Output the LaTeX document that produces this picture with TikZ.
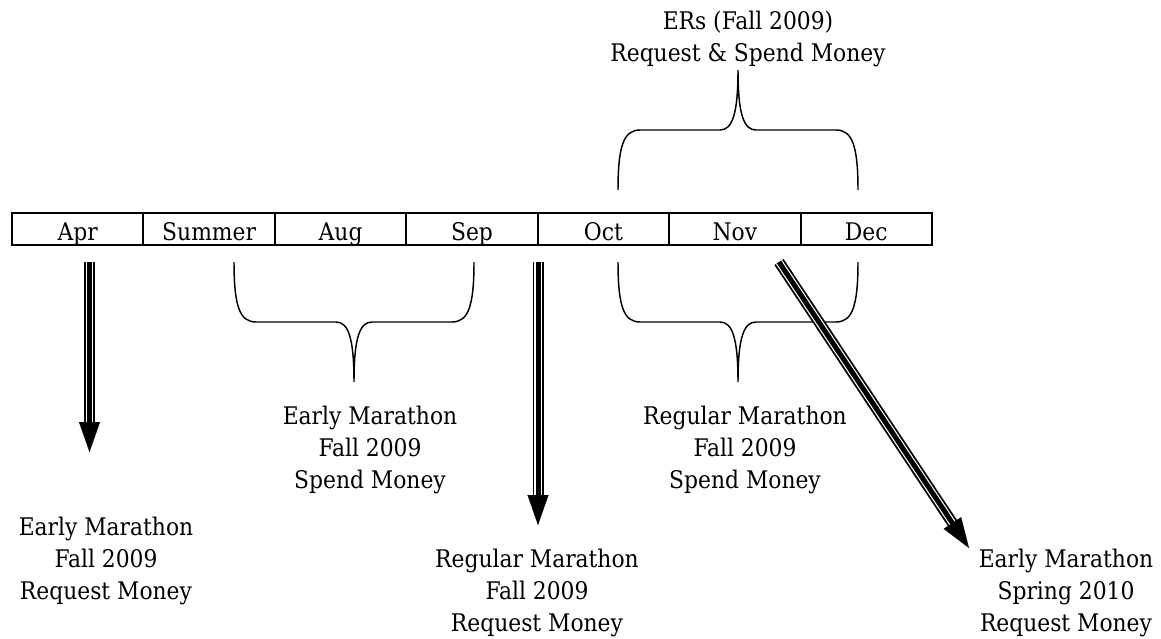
\documentclass[tikz,border=0pt]{standalone}
\usepackage{fontspec}
\setmainfont{DejaVu Serif Condensed}
\usetikzlibrary{arrows.meta}

\begin{document}
\begin{tikzpicture}[x=0.75pt, y=-0.75pt]
            \tikzstyle{cell}=[draw, line width=1.5pt, inner sep=0pt,
            minimum width=98.57pt, minimum height=24pt,
            text height=16.5pt, text depth=0pt, font=\fontsize{18.2}{24}\selectfont]
            \tikzstyle{txt}=[align=center, inner sep=0pt,
            font=\fontsize{18.2}{24}\selectfont]
            \tikzstyle{shaft}=[line width=8.25pt, shorten >=20pt,
            postaction={draw=white, line width=5.5pt, shorten >=20pt},
            postaction={draw, line width=3.75pt, shorten >=20pt}]
            \tikzstyle{tip}=[-{Triangle[length=22.5pt, width=15.75pt]}, line width=0.1pt]
            \tikzstyle{brace}=[line width=1.1pt]
            \useasboundingbox (0,0) rectangle (1161,639);

            % months
            \foreach \i/\n/\m in {0/apr/Apr, 1/sum/Summer, 2/aug/Aug, 3/sep/Sep,
                4/oct/Oct, 5/nov/Nov, 6/dec/Dec}
            \node[cell] (\n) at ({77.7+131.43*\i}, 229) {\m};

            % texts
            \node[txt] (ers) at (748, 39) {ERs (Fall 2009)\\Request \& Spend Money};
            \node[txt] (emSpend) at (370, 450) {Early Marathon\\Fall 2009\\Spend Money};
            \node[txt] (rmSpend) at (745, 450) {Regular Marathon\\Fall 2009\\Spend Money};
            \node[txt] (emReq) at (106, 561) {Early Marathon\\Fall 2009\\Request Money};
            \node[txt] (rmReq) at (537, 593) {Regular Marathon\\Fall 2009\\Request Money};
            \node[txt] (emSpring) at (1066, 593) {Early Marathon\\Spring 2010\\Request Money};

            % braces
            \foreach \l/\r/\t/\d in {234/474/262/1, 618/858/262/1, 618/858/190/-1}
            \draw[brace] (\l,\t) .. controls (\l,\t+\d*45) and (\l+6,\t+\d*60) .. (\l+22,\t+\d*60)
                -- ({(\l+\r)/2-18},\t+\d*60)
                .. controls ({(\l+\r)/2-6},\t+\d*60) and ({(\l+\r)/2},\t+\d*75) .. ({(\l+\r)/2},\t+\d*120)
                .. controls ({(\l+\r)/2},\t+\d*75) and ({(\l+\r)/2+6},\t+\d*60) .. ({(\l+\r)/2+18},\t+\d*60)
                -- (\r-22,\t+\d*60)
                .. controls (\r-6,\t+\d*60) and (\r,\t+\d*45) .. (\r,\t);

            % arrows
            \coordinate (s1) at (89.5,262);
            \coordinate (e1) at (89.5,452);
            \coordinate (s2) at (538,262);
            \coordinate (e2) at (538,525);
            \coordinate (s3) at (779,262);
            \coordinate (e3) at (969,548);
            \foreach \s/\e in {s1/e1, s2/e2, s3/e3} {
                \draw[shaft] (\s) -- (\e);
                \draw[tip] (\s) -- (\e);
            }
        \end{tikzpicture}
\end{document}
